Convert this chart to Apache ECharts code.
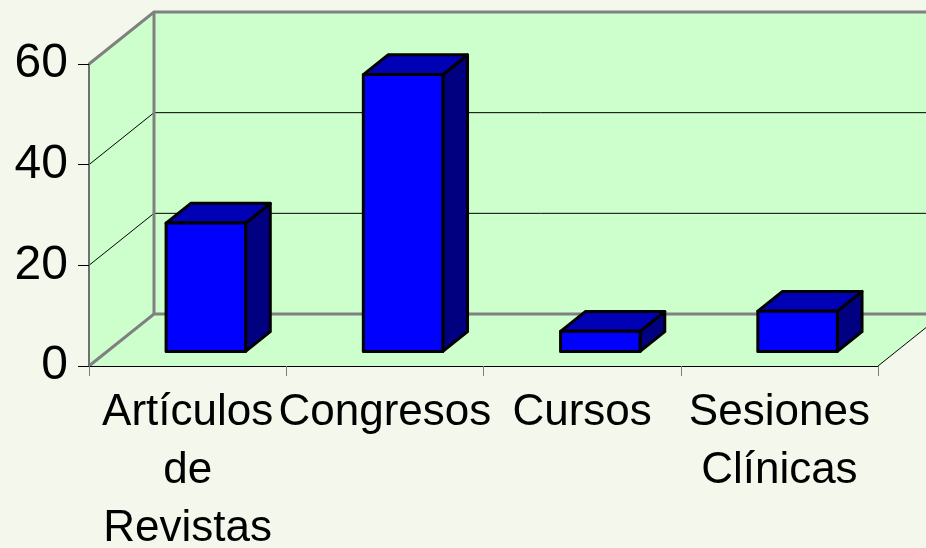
<!DOCTYPE html>
<html><head><meta charset="utf-8">
<script src="https://cdn.jsdelivr.net/npm/echarts@6/dist/echarts.min.js"></script>
<style>html,body{margin:0;padding:0;background:#f4f7eb}#c{width:926px;height:548px}</style>
</head><body><div id="c"></div>
<script>
const categories = ['Artículos\nde\nRevistas', 'Congresos', 'Cursos', 'Sesiones\nClínicas'];
const values = [25.5, 55, 4, 8];
const yTicks = [0, 20, 40, 60];
const yMin = 0, yMax = 60, yInterval = 20;

const DX = 65, DY = -52;
const FONT = '"Liberation Sans", Arial, sans-serif';

function wallsRender(params, api) {
  const n = categories.length;
  const catW = api.size([1, 0])[0];
  const p0 = api.coord([0, yMin]);
  const pN = api.coord([n - 1, yMin]);
  const x0 = p0[0] - catW / 2, xR = pN[0] + catW / 2, y0 = p0[1];
  const yT = api.coord([0, yMax])[1];
  const fill = '#ccffcc';
  const ch = [];
  ch.push({type: 'polygon', shape: {points: [[x0 + DX, y0 + DY], [xR + DX + 40, y0 + DY], [xR + DX + 40, yT + DY], [x0 + DX, yT + DY]]}, style: {fill: fill}});
  ch.push({type: 'polygon', shape: {points: [[x0, y0], [x0 + DX, y0 + DY], [x0 + DX, yT + DY], [x0, yT]]}, style: {fill: fill}});
  ch.push({type: 'polygon', shape: {points: [[x0, y0], [xR, y0], [xR + DX, y0 + DY], [x0 + DX, y0 + DY]]}, style: {fill: fill}});
  yTicks.forEach(function (v) {
    const y = api.coord([0, v])[1];
    const edge = (v === yMin || v === yMax);
    const st = edge ? {stroke: '#808080', lineWidth: 3} : {stroke: '#000', lineWidth: 1};
    ch.push({type: 'polyline', shape: {points: [[x0, y], [x0 + DX, y + DY], [xR + DX + 40, y + DY]]}, style: Object.assign({fill: null}, st)});
  });
  ch.push({type: 'line', shape: {x1: x0 + DX, y1: y0 + DY, x2: x0 + DX, y2: yT + DY}, style: {stroke: '#808080', lineWidth: 3}});
  ch.push({type: 'line', shape: {x1: xR, y1: y0, x2: xR + DX, y2: y0 + DY}, style: {stroke: '#000', lineWidth: 1}});
  return {type: 'group', children: ch};
}

function barRender(params, api) {
  const i = api.value(0), v = api.value(1);
  const catW = api.size([1, 0])[0];
  const c = api.coord([i, 0]);
  const t = api.coord([i, v]);
  const f1 = 0.28, f2 = 0.66;
  const w = catW * 0.403;
  const ox = c[0] + f1 * DX;
  const xl = ox - w / 2, xr = ox + w / 2;
  const yb = c[1] + f1 * DY, yt = t[1] + f1 * DY;
  const ddx = (f2 - f1) * DX, ddy = (f2 - f1) * DY;
  const ln = {stroke: '#000', lineWidth: 3, lineJoin: 'round'};
  return {type: 'group', children: [
    {type: 'polygon', shape: {points: [[xr, yt], [xr + ddx, yt + ddy], [xr + ddx, yb + ddy], [xr, yb]]}, style: Object.assign({fill: '#000080'}, ln)},
    {type: 'polygon', shape: {points: [[xl, yt], [xr, yt], [xr + ddx, yt + ddy], [xl + ddx, yt + ddy]]}, style: Object.assign({fill: '#0000b4'}, ln)},
    {type: 'rect', shape: {x: xl, y: yt, width: w, height: yb - yt}, style: Object.assign({fill: '#0000ff'}, ln)}
  ]};
}

const chart = echarts.init(document.getElementById('c'), null, {renderer: 'canvas'});
chart.setOption({
  backgroundColor: '#f4f7eb',
  animation: false,
  grid: {left: 89, right: 48, top: 64, bottom: 182, containLabel: false, outerBoundsMode: 'none'},
  xAxis: {
    type: 'category', data: categories, boundaryGap: true, z: 5,
    axisLine: {show: true, lineStyle: {color: '#000', width: 1}},
    axisTick: {show: true, length: 10, lineStyle: {color: '#808080', width: 1}},
    axisLabel: {interval: 0, fontSize: 44, fontFamily: FONT, color: '#000', lineHeight: 58, margin: 18},
    splitLine: {show: false}
  },
  yAxis: {
    type: 'value', min: yMin, max: yMax, interval: yInterval, z: 5,
    axisLine: {show: true, lineStyle: {color: '#707070', width: 2}},
    axisTick: {show: true, length: 11, lineStyle: {color: '#000', width: 1}},
    axisLabel: {fontSize: 48, fontFamily: FONT, color: '#000', margin: 21},
    splitLine: {show: false}
  },
  series: [
    {type: 'custom', z: 1, silent: true, data: [[0, 0]], encode: {x: 0, y: 1}, renderItem: wallsRender},
    {type: 'custom', z: 2, data: values.map(function (v, i) { return [i, v]; }), encode: {x: 0, y: 1}, renderItem: barRender}
  ]
});
</script>
</body></html>
